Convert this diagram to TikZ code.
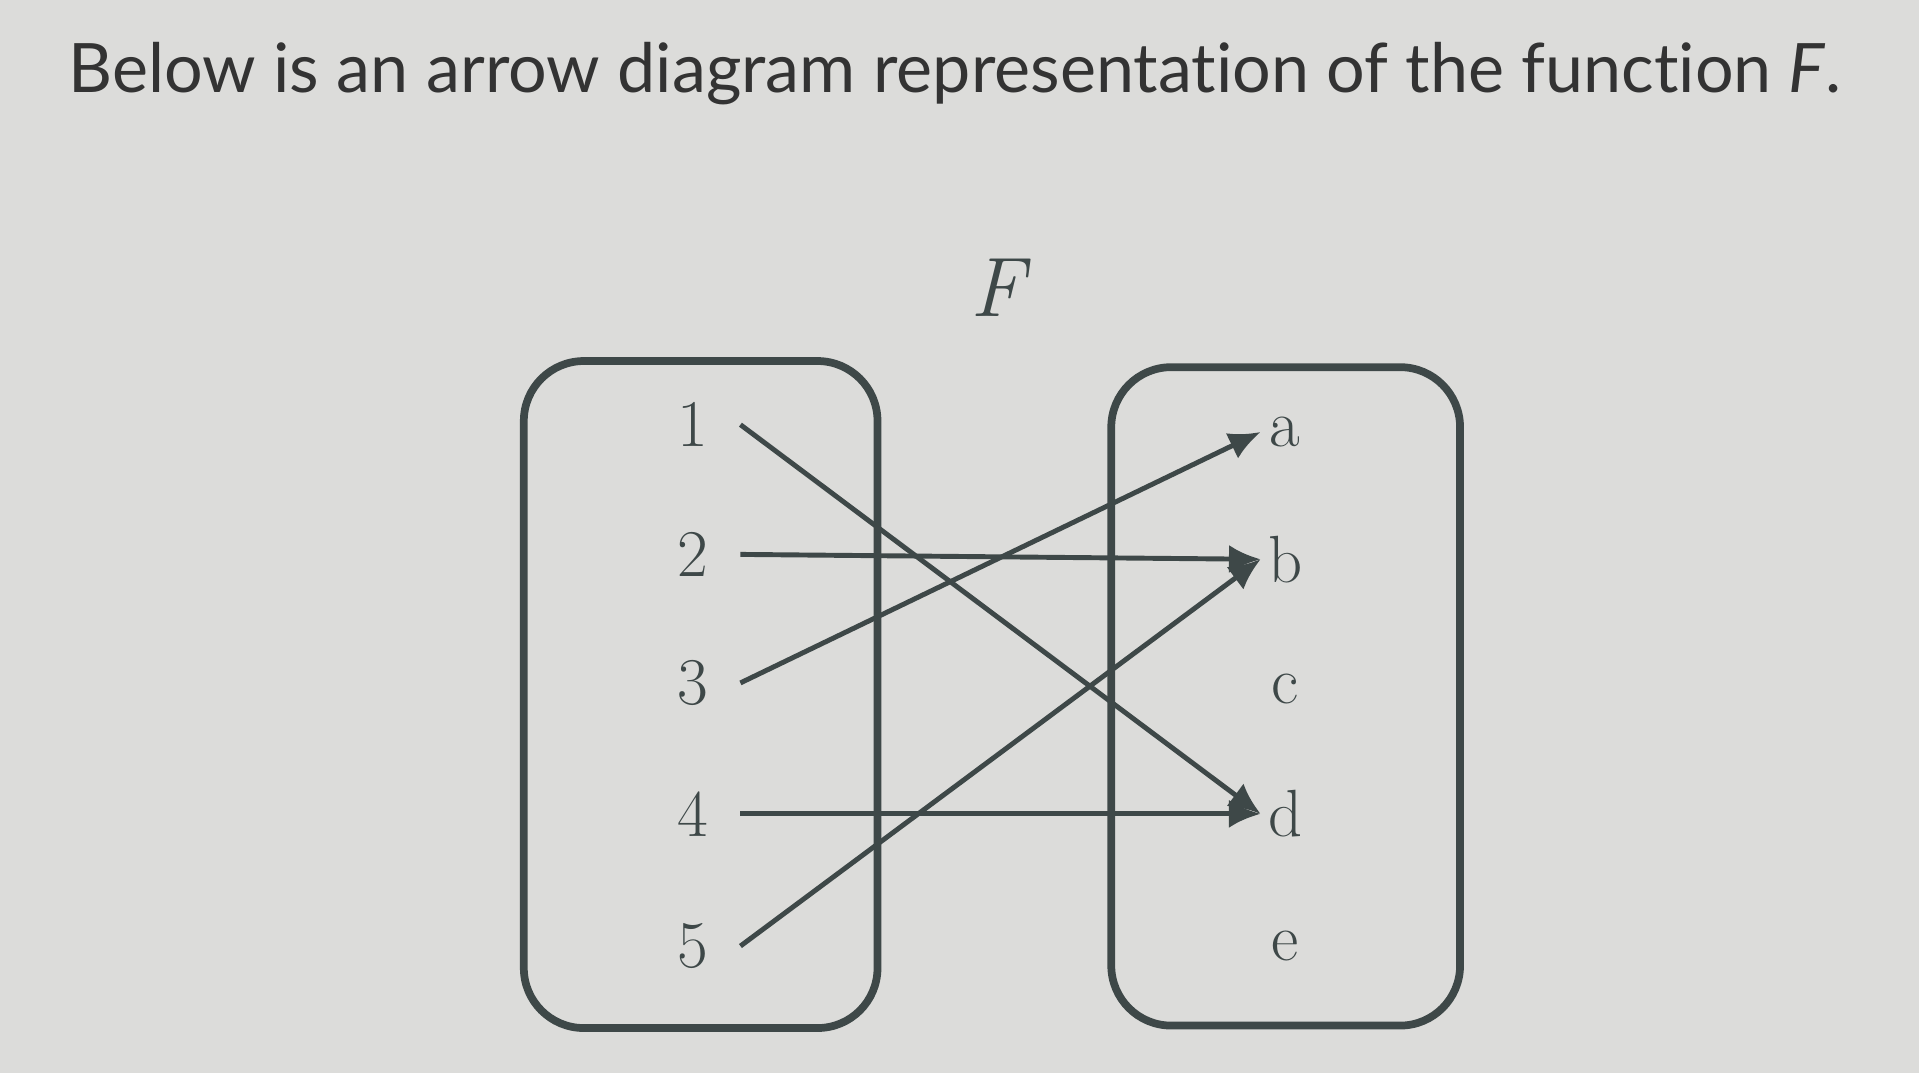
\documentclass[tikz,border=0pt]{standalone}
\usepackage{fontspec}
\setmainfont{Lato}[Ligatures=NoCommon]
\usetikzlibrary{arrows.meta}
\newfontfamily\lmserif{Latin Modern Roman}
\definecolor{bg}{HTML}{DCDCDA}
\definecolor{ink}{HTML}{3E4848}
\tikzset{
  setbox/.style={draw=ink,line width=2.2pt,rounded corners=0.6cm},
  elem/.style={font=\lmserif\fontsize{19}{19}\selectfont,text=ink,inner sep=1pt},
  maparrow/.style={draw=ink,line width=1.4pt,-{Latex[length=9pt,width=8pt]}}
}
\begin{document}
\begin{tikzpicture}[x=0.01224cm,y=-0.01224cm]
\fill[bg] (0,0) rectangle (1568,877);
\useasboundingbox (0,0) rectangle (1568,877);
\node[anchor=west,text=black!80,font=\fontsize{19.4}{19.4}\selectfont] (title) at (46,60) {Below is an arrow diagram representation of the function \textit{F}.};
\node[font=\lmserif\itshape\fontsize{24}{24}\selectfont,text=ink] (F) at (815,235) {F};
\draw[setbox] (428,295) rectangle (717,840);
\draw[setbox] (908,300) rectangle (1193,838);
\foreach \n/\y in {1/347,2/453,3/558,4/665,5/773}{
  \node[elem] (l\n) at (566,\y) {\n};
  \coordinate (s\n) at (605,\y);
}
\foreach \n/\y in {a/353,b/457,c/563,d/665,e/773}{
  \node[elem] (r\n) at (1050,\y) {\n};
  \coordinate (t\n) at (1030,\y);
}
\draw[maparrow] (s1) -- (td);
\draw[maparrow] (s2) -- (tb);
\draw[maparrow] (s3) -- (ta);
\draw[maparrow] (s4) -- (td);
\draw[maparrow] (s5) -- (tb);
\end{tikzpicture}
\end{document}
